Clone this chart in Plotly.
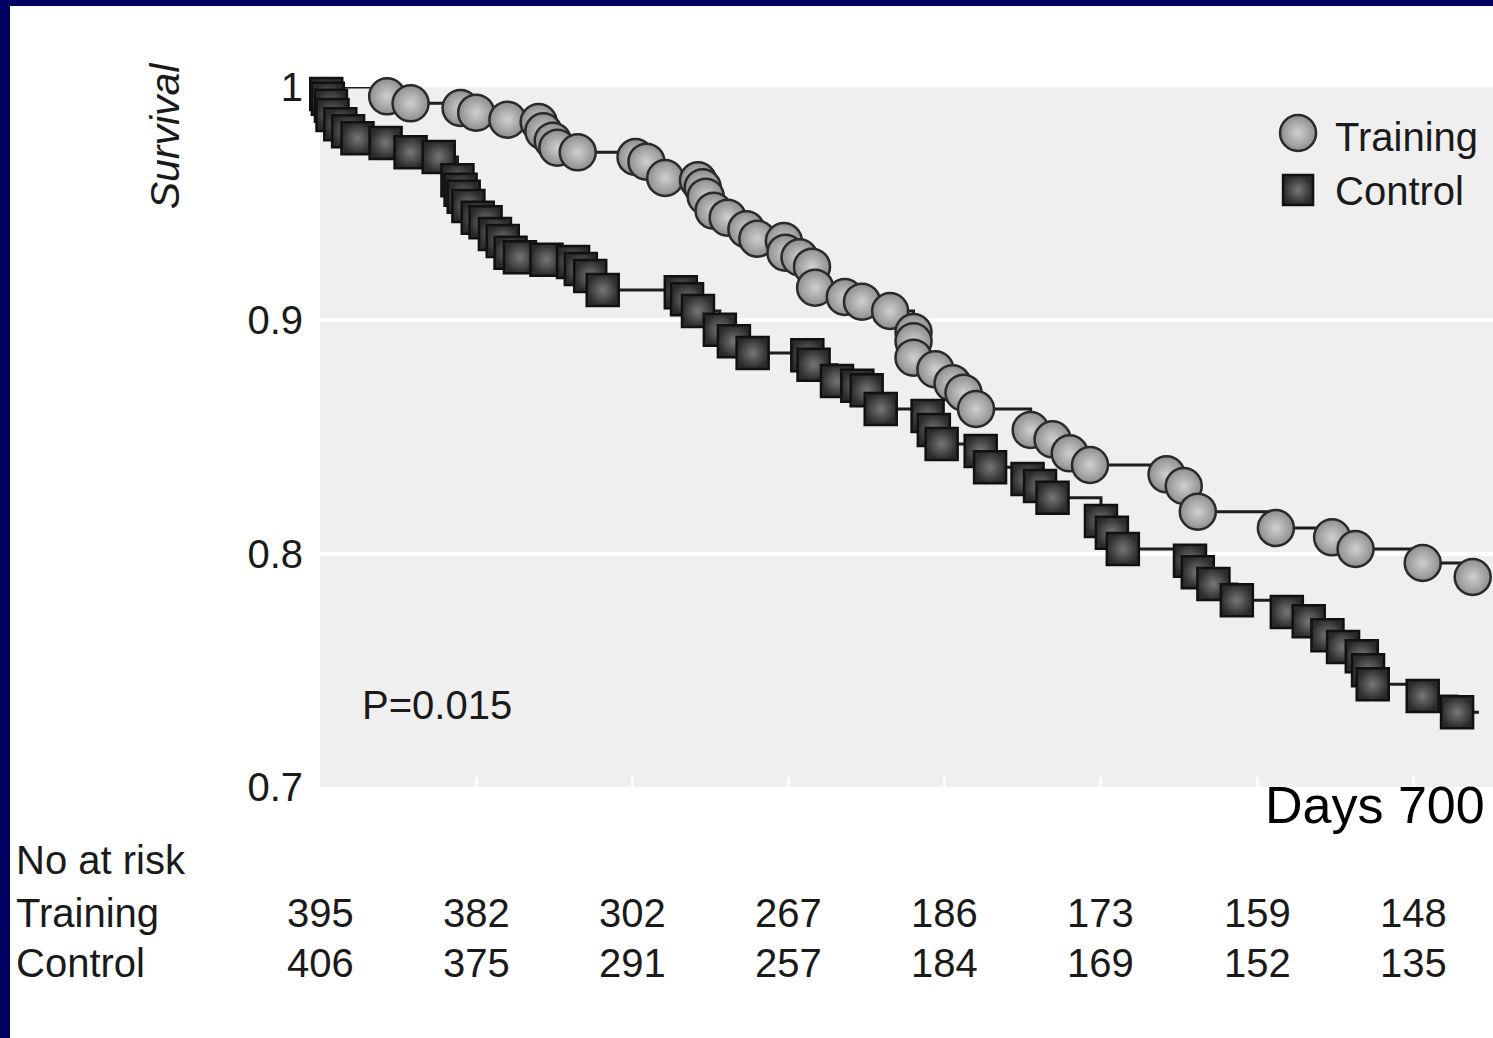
import plotly.graph_objects as go

# ---- data ----
train_days = [43, 58, 90, 100, 120, 140, 143, 149, 152, 165, 202, 209, 221, 242, 245,
              247, 252, 261, 273, 280, 297, 298, 307, 315, 317, 336, 347, 365, 380, 380,
              380, 394, 405, 412, 420, 455, 469, 480, 493, 542, 553, 562, 612, 648, 663,
              706, 738]
train_surv = [0.996, 0.993, 0.991, 0.989, 0.986, 0.985, 0.981, 0.977, 0.974, 0.972,
              0.970, 0.968, 0.961, 0.960, 0.957, 0.953, 0.947, 0.944, 0.939, 0.935,
              0.934, 0.929, 0.927, 0.923, 0.914, 0.910, 0.908, 0.904, 0.895, 0.891,
              0.884, 0.879, 0.873, 0.869, 0.862, 0.853, 0.849, 0.843, 0.838, 0.834,
              0.829, 0.818, 0.811, 0.807, 0.802, 0.796, 0.790]

ctrl_days = [4, 5, 7, 8, 13, 18, 24, 42, 58, 76, 88, 90, 92, 95, 101, 106, 112, 117, 122,
             128, 145, 162, 167, 173, 181, 231, 235, 242, 256, 265, 277, 312, 316, 331,
             344, 350, 359, 389, 393, 398, 423, 429, 453, 461, 469, 500, 507, 514, 557,
             562, 572, 587, 619, 633, 645, 655, 667, 671, 674, 706, 728]
ctrl_surv = [0.997, 0.995, 0.992, 0.988, 0.984, 0.981, 0.978, 0.976, 0.972, 0.970,
             0.960, 0.956, 0.953, 0.949, 0.944, 0.942, 0.937, 0.934, 0.929, 0.927,
             0.926, 0.925, 0.922, 0.919, 0.913, 0.912, 0.909, 0.904, 0.896, 0.891,
             0.886, 0.885, 0.881, 0.874, 0.872, 0.870, 0.862, 0.859, 0.853, 0.847,
             0.844, 0.837, 0.832, 0.829, 0.824, 0.814, 0.809, 0.802, 0.797, 0.792,
             0.787, 0.780, 0.775, 0.771, 0.765, 0.760, 0.756, 0.750, 0.744, 0.739,
             0.732]
ctrl_end_day = 742

risk_days = [0, 100, 200, 300, 400, 500, 600, 700]
risk_training = [395, 382, 302, 267, 186, 173, 159, 148]
risk_control = [406, 375, 291, 257, 184, 169, 152, 135]

y_ticks = [0.7, 0.8, 0.9, 1.0]
y_ticktext = ["0.7", "0.8", "0.9", "1"]
p_value_text = "P=0.015"

# ---- styling ----
FONT = "Liberation Sans, Arial, sans-serif"
TXT = "#1a1a1a"
NAVY = "#000060"
LINE_COL = "#1e1e1e"
circ_marker = dict(symbol="circle", size=36, color="#8e8e8e",
                   gradient=dict(type="radial", color="#d0d0d0"),
                   line=dict(color="#2a2a2a", width=2.5))
sq_marker = dict(symbol="square", size=32, color="#2b2b2b",
                 gradient=dict(type="radial", color="#777777"),
                 line=dict(color="#111111", width=2.5))

fig = go.Figure()

# Training curve
fig.add_trace(go.Scatter(x=[0] + train_days, y=[1.0] + train_surv, mode="lines",
                         line=dict(shape="hv", color=LINE_COL, width=3),
                         showlegend=False, cliponaxis=False, hoverinfo="skip"))
fig.add_trace(go.Scatter(x=train_days, y=train_surv, mode="markers", name="Training",
                         marker=circ_marker, showlegend=False, cliponaxis=False))
# Control curve
fig.add_trace(go.Scatter(x=[0] + ctrl_days + [ctrl_end_day],
                         y=[1.0] + ctrl_surv + [ctrl_surv[-1]], mode="lines",
                         line=dict(shape="hv", color=LINE_COL, width=3),
                         showlegend=False, cliponaxis=False, hoverinfo="skip"))
fig.add_trace(go.Scatter(x=ctrl_days, y=ctrl_surv, mode="markers", name="Control",
                         marker=sq_marker, showlegend=False, cliponaxis=False))

# legend key drawn on an overlay axis spanning the plot area (0..1)
fig.add_trace(go.Scatter(x=[0.8338], y=[0.9343], mode="markers", marker=circ_marker,
                         xaxis="x2", yaxis="y2", showlegend=False, cliponaxis=False,
                         hoverinfo="skip"))
fig.add_trace(go.Scatter(x=[0.8338], y=[0.8529], mode="markers",
                         marker=dict(sq_marker, size=30),
                         xaxis="x2", yaxis="y2", showlegend=False, cliponaxis=False,
                         hoverinfo="skip"))


def txt(text, x, y, xanchor="left", size=40, xref="paper", **kw):
    return dict(text=text, x=x, y=y, xref=xref, yref="paper", xanchor=xanchor,
                yanchor="middle", showarrow=False,
                font=dict(family=kw.pop("family", FONT), size=size,
                          color=kw.pop("color", TXT)), **kw)


annotations = [
    txt("Training", 0.8636, 0.9286),
    txt("Control", 0.8636, 0.8514),
    txt("<i>Survival</i>", -0.1321, 0.931, xanchor="center", size=41, textangle=-90),
    txt(p_value_text, 0.0997, 0.117, xanchor="center"),
    txt("Days 700", 0.9949, -0.0257, xanchor="right", size=52, color="#000000"),
    txt("No at risk", -0.2612, -0.1043),
    txt("Training", -0.2612, -0.18),
    txt("Control", -0.2612, -0.2514),
]
for d, t, c in zip(risk_days, risk_training, risk_control):
    annotations.append(txt(str(t), d, -0.18, xanchor="center", size=40, xref="x"))
    annotations.append(txt(str(c), d, -0.2514, xanchor="center", size=40, xref="x"))

shapes = [
    dict(type="rect", xref="paper", yref="paper", x0=-0.2728, x1=-0.26428,
         y0=-0.36, y1=1.13, fillcolor=NAVY, line=dict(width=0), layer="above"),
    dict(type="rect", xref="paper", yref="paper", x0=-0.2728, x1=1.01,
         y0=1.11571, y1=1.13, fillcolor=NAVY, line=dict(width=0), layer="above"),
]

fig.update_layout(
    width=1493, height=1038,
    margin=dict(l=320, r=0, t=87, b=251),
    paper_bgcolor="white", plot_bgcolor="#efefef",
    font=dict(family=FONT, size=40, color=TXT),
    showlegend=False,
    xaxis=dict(range=[0, 751], showgrid=False, zeroline=False, showline=False,
               tickvals=risk_days[1:], ticks="inside", ticklen=10, tickwidth=3,
               tickcolor="white", showticklabels=False, fixedrange=True),
    yaxis=dict(range=[0.7, 1.0], tickvals=y_ticks, ticktext=y_ticktext,
               showgrid=True, gridcolor="white", gridwidth=4, zeroline=False,
               showline=False, ticks="outside", ticklen=8,
               tickcolor="rgba(0,0,0,0)",
               tickfont=dict(family=FONT, size=40, color=TXT)),
    xaxis2=dict(range=[0, 1], overlaying="x", visible=False, domain=[0, 1]),
    yaxis2=dict(range=[0, 1], overlaying="y", visible=False, domain=[0, 1]),
    annotations=annotations,
    shapes=shapes,
)

fig.write_html("out.html")
